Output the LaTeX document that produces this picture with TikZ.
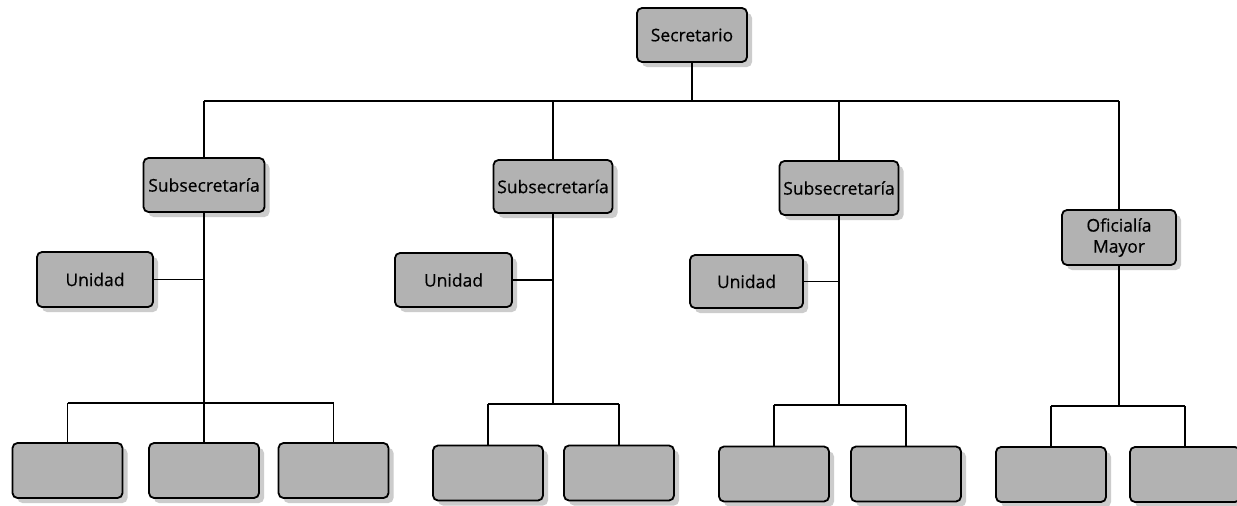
\documentclass[tikz,border=0pt]{standalone}
\usepackage{fontspec}
\setmainfont{Open Sans}
\newfontfamily\boxfont[FakeBold=0.5]{Open Sans}
\usetikzlibrary{shadows}
\begin{document}
\begin{tikzpicture}[x=1pt,y=-1pt,
  box/.style={draw=black, line width=1.8pt, rounded corners=5pt, fill=black!30,
    minimum width=110pt, minimum height=55pt, inner sep=2pt, align=center,
    font=\boxfont\fontsize{17.5}{22}\selectfont,
    drop shadow={shadow xshift=5pt, shadow yshift=-5pt, fill=black!20, opacity=1}},
  link/.style={draw=black, line width=1.8pt}]
\clip (0,0) rectangle (1237,506);
\fill[white] (0,0) rectangle (1237,506);
% top
\node[box, minimum width=110pt, minimum height=54pt] (sec) at (692,35) {Secretario};
% second level
\node[box, minimum width=121pt, minimum height=54pt] (s1) at (204,185) {Subsecretaría};
\node[box, minimum width=119pt, minimum height=53pt] (s2) at (553,186.5) {Subsecretaría};
\node[box, minimum width=119pt, minimum height=54pt] (s3) at (839,188) {Subsecretaría};
\node[box, minimum width=114pt, minimum height=55pt] (om) at (1119,237.5) {Oficialía\\[-1pt]Mayor};
% units
\node[box, minimum width=116pt, minimum height=55pt] (u1) at (95,279.5) {Unidad};
\node[box, minimum width=117pt, minimum height=54pt] (u2) at (453.5,280) {Unidad};
\node[box, minimum width=113pt, minimum height=53pt] (u3) at (746.5,281.5) {Unidad};
% bottom
\node[box] (b11) at (67.5,470.5) {};
\node[box] (b12) at (204,470.5) {};
\node[box] (b13) at (333.5,470.5) {};
\node[box] (b21) at (488,473) {};
\node[box] (b22) at (619,473) {};
\node[box] (b31) at (774,474) {};
\node[box] (b32) at (906,474) {};
\node[box] (b41) at (1051,474.5) {};
\node[box] (b42) at (1185,474.5) {};
% bus coordinates
\coordinate (bus) at (0,101);
\coordinate (g1) at (0,403);
\coordinate (g2) at (0,404);
\coordinate (g3) at (0,405);
\coordinate (g4) at (0,406);
% top connectors
\draw[link] (sec.south) -- (sec.south |- bus);
\draw[link] (s1.north |- bus) -- (om.north |- bus);
\draw[link] (s1.north |- bus) -- (s1.north);
\draw[link] (s2.north |- bus) -- (s2.north);
\draw[link] (s3.north |- bus) -- (s3.north);
\draw[link] (om.north |- bus) -- (om.north);
% units
\draw[link] (u1.east) -- (u1.east -| s1.south);
\draw[link] (u2.east) -- (u2.east -| s2.south);
\draw[link] (u3.east) -- (u3.east -| s3.south);
% group 1
\draw[link] (s1.south) -- (s1.south |- g1);
\draw[link] (b11.north |- g1) -- (b13.north |- g1);
\draw[link] (b11.north |- g1) -- (b11.north);
\draw[link] (b12.north |- g1) -- (b12.north);
\draw[link] (b13.north |- g1) -- (b13.north);
% group 2
\draw[link] (s2.south) -- (s2.south |- g2);
\draw[link] (b21.north |- g2) -- (b22.north |- g2);
\draw[link] (b21.north |- g2) -- (b21.north);
\draw[link] (b22.north |- g2) -- (b22.north);
% group 3
\draw[link] (s3.south) -- (s3.south |- g3);
\draw[link] (b31.north |- g3) -- (b32.north |- g3);
\draw[link] (b31.north |- g3) -- (b31.north);
\draw[link] (b32.north |- g3) -- (b32.north);
% group 4
\draw[link] (om.south) -- (om.south |- g4);
\draw[link] (b41.north |- g4) -- (b42.north |- g4);
\draw[link] (b41.north |- g4) -- (b41.north);
\draw[link] (b42.north |- g4) -- (b42.north);
\end{tikzpicture}
\end{document}
